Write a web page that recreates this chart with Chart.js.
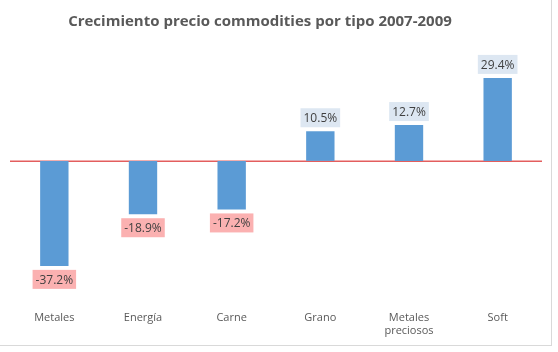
<!DOCTYPE html>
<html><head><meta charset="utf-8">
<script src="https://cdn.jsdelivr.net/npm/chart.js@4"></script>
<style>
html,body{margin:0;padding:0;background:#fff;}
#wrap{position:absolute;left:0;top:0;width:551px;height:345px;border-right:1px solid #d9d9d9;border-bottom:1px solid #d9d9d9;}
#title{position:absolute;left:2px;top:8px;width:516px;text-align:center;font:bold 15px "Open Sans",sans-serif;color:#595959;line-height:24px;}
canvas{display:block;}
</style></head><body>
<div id="wrap"><canvas id="c" width="551" height="345"></canvas><div id="title"></div></div>
<script>
const categories = [["Metales"], ["Energía"], ["Carne"], ["Grano"], ["Metales", "preciosos"], ["Soft"]];
const growthValues = [-37.2, -18.9, -17.2, 10.5, 12.7, 29.4];
const titleText = "Crecimiento precio commodities por tipo 2007-2009";
document.getElementById('title').textContent = titleText;

const labelPlugin = {
  id: 'valueLabels',
  beforeDatasetsDraw(chart) {
    const ctx = chart.ctx;
    const y0 = chart.scales.y.getPixelForValue(0);
    ctx.save();
    ctx.strokeStyle = '#e35e5e';
    ctx.lineWidth = 1.5;
    ctx.beginPath();
    ctx.moveTo(chart.chartArea.left, Math.round(y0) + 0.25);
    ctx.lineTo(chart.chartArea.right, Math.round(y0) + 0.25);
    ctx.stroke();
    ctx.restore();
  },
  afterDatasetsDraw(chart) {
    const ctx = chart.ctx;
    const meta = chart.getDatasetMeta(0);
    ctx.save();
    ctx.font = '12px "Open Sans", sans-serif';
    ctx.textAlign = 'center';
    ctx.textBaseline = 'middle';
    meta.data.forEach((bar, i) => {
      const v = growthValues[i];
      const txt = v.toFixed(1) + '%';
      const w = ctx.measureText(txt).width + 6;
      const h = 19;
      const x = bar.x;
      let top;
      if (v >= 0) { top = bar.y - 4 - h; ctx.fillStyle = '#dde7f2'; }
      else { top = bar.y + 4; ctx.fillStyle = '#fbb1b1'; }
      ctx.fillRect(x - w / 2, top, w, h);
      ctx.fillStyle = '#404040';
      ctx.fillText(txt, x, top + h / 2 + 1);
    });
    ctx.restore();
  }
};

new Chart(document.getElementById('c'), {
  type: 'bar',
  data: {
    labels: categories,
    datasets: [{
      data: growthValues,
      backgroundColor: '#5b9bd5',
      borderWidth: 0,
      categoryPercentage: 1,
      barPercentage: 0.32
    }]
  },
  options: {
    responsive: false,
    animation: false,
    layout: { padding: { left: 10, right: 9, top: 48, bottom: 0 } },
    plugins: {
      legend: { display: false },
      tooltip: { enabled: false },
      title: { display: false }
    },
    scales: {
      x: {
        grid: { display: false, drawTicks: false },
        border: { display: false },
        afterFit: (s) => { s.height = 43; },
        ticks: {
          color: '#595959',
          font: { family: '"Open Sans", sans-serif', size: 11 },
          padding: 9,
          maxRotation: 0,
          autoSkip: false
        }
      },
      y: {
        display: true,
        min: -50,
        max: 40,
        ticks: { display: false, stepSize: 10 },
        border: { display: false },
        grid: { display: false, drawTicks: false }
      }
    }
  },
  plugins: [labelPlugin]
});
</script>
</body></html>
